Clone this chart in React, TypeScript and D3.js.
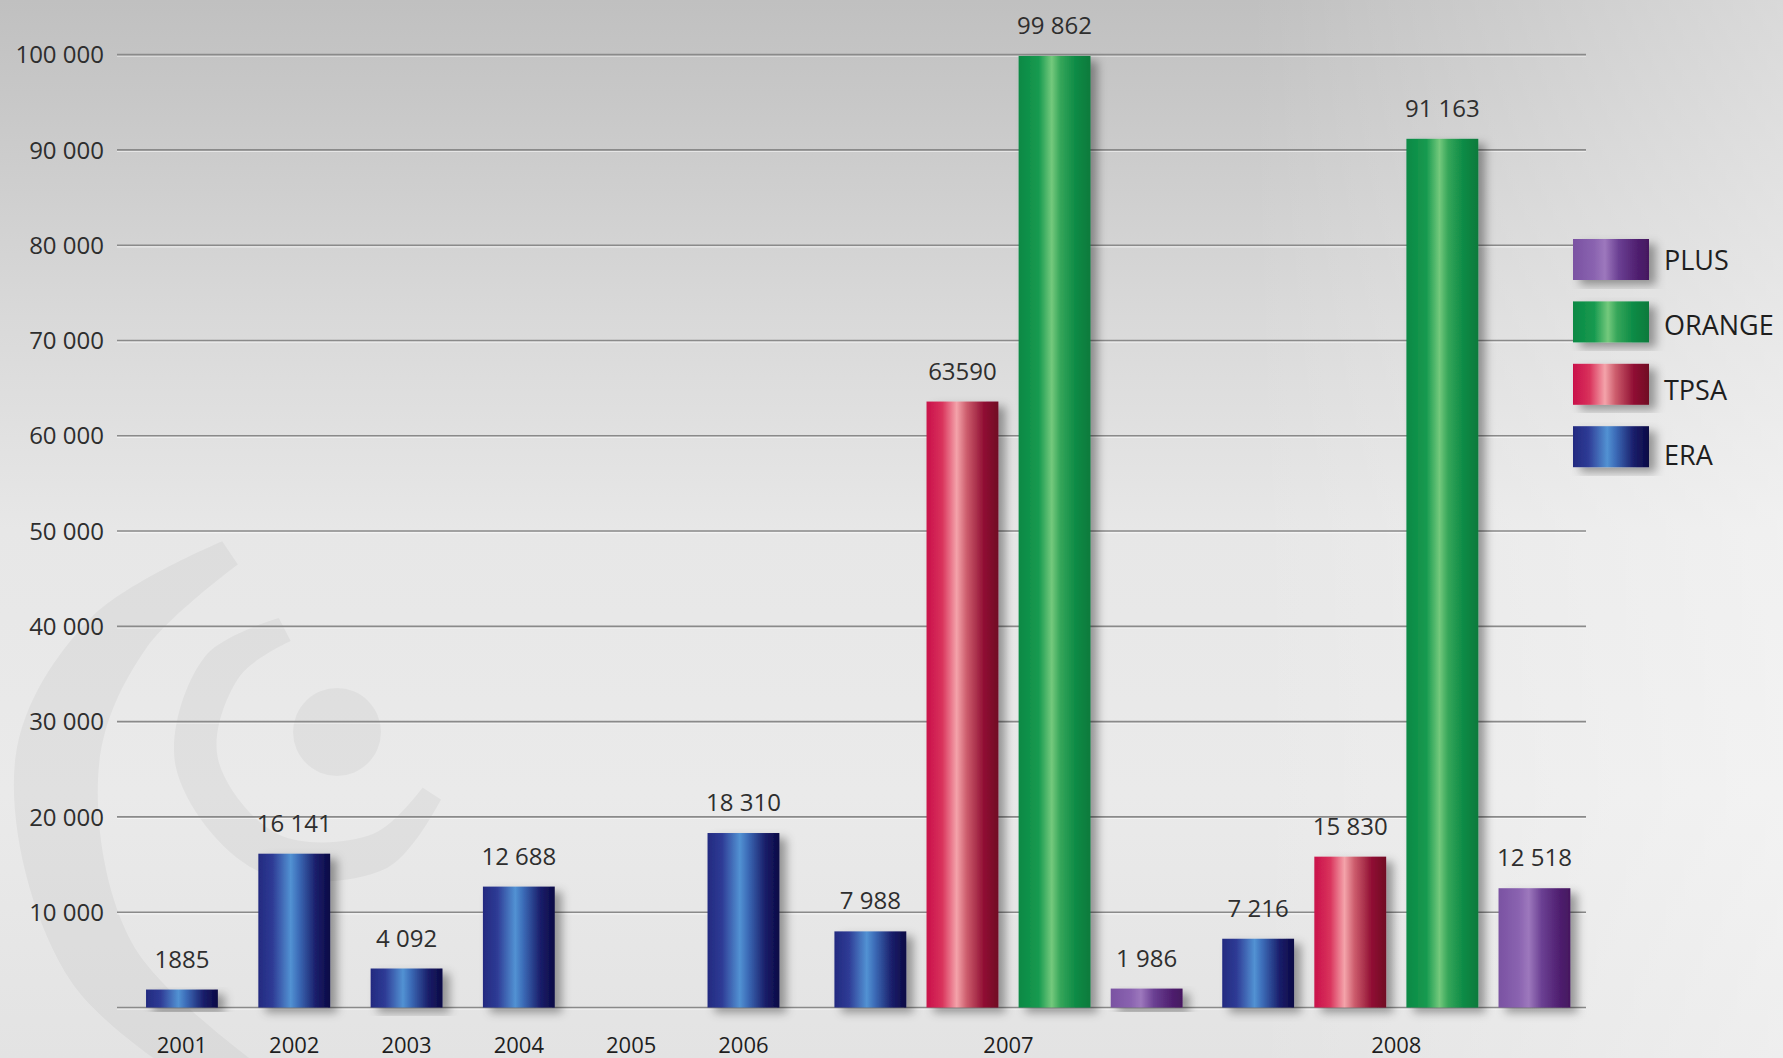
import React from "react";
import * as d3 from "d3";

// ---------- data ----------
const years = ["2001", "2002", "2003", "2004", "2005", "2006", "2007", "2008"];
const seriesNames = ["ERA", "TPSA", "ORANGE", "PLUS"];
const eraValues = [1885, 16141, 4092, 12688, null, 18310, 7988, 7216];
const tpsaValues = [null, null, null, null, null, null, 63590, 15830];
const orangeValues = [null, null, null, null, null, null, 99862, 91163];
const plusValues = [null, null, null, null, null, null, 1986, 12518];
const eraLabels = ["1885", "16 141", "4 092", "12 688", "", "18 310", "7 988", "7 216"];
const tpsaLabels = ["", "", "", "", "", "", "63590", "15 830"];
const orangeLabels = ["", "", "", "", "", "", "99 862", "91 163"];
const plusLabels = ["", "", "", "", "", "", "1 986", "12 518"];
const yTicks = [0, 10000, 20000, 30000, 40000, 50000, 60000, 70000, 80000, 90000, 100000];
const legendOrder = ["PLUS", "ORANGE", "TPSA", "ERA"];

// ---------- layout ----------
const W = 1783;
const H = 1058;
const FONT = "'Open Sans', 'Noto Sans', sans-serif";
const plotLeft = 117;
const plotRight = 1586;
const yTop = 54.6;
const yBottom = 1007.5;
const firstYearLeft = 125.8;
const singleW = 112.3;
const innerStep = 92.1;
const groupPad = 9.7;
const groupLeadGap = 15;

const valuesBySeries: Record<string, (number | null)[]> = {
  ERA: eraValues,
  TPSA: tpsaValues,
  ORANGE: orangeValues,
  PLUS: plusValues,
};
const labelsBySeries: Record<string, string[]> = {
  ERA: eraLabels,
  TPSA: tpsaLabels,
  ORANGE: orangeLabels,
  PLUS: plusLabels,
};

const gradStops: Record<string, [number, string][]> = {
  ERA: [
    [0, "#232a80"],
    [0.2, "#2e3b95"],
    [0.45, "#5292d3"],
    [0.56, "#3c6cb8"],
    [0.8, "#1a1e6a"],
    [1, "#0b0944"],
  ],
  TPSA: [
    [0, "#c9104a"],
    [0.22, "#d9335c"],
    [0.42, "#f4a3aa"],
    [0.56, "#cc5c6c"],
    [0.8, "#900f33"],
    [1, "#700a24"],
  ],
  ORANGE: [
    [0, "#0a8944"],
    [0.28, "#179a50"],
    [0.46, "#74c97c"],
    [0.58, "#36a65a"],
    [0.8, "#0b8a45"],
    [1, "#077a3c"],
  ],
  PLUS: [
    [0, "#7a52a2"],
    [0.28, "#8a63b0"],
    [0.42, "#9d78bd"],
    [0.6, "#6b4093"],
    [0.85, "#4f1f6f"],
    [1, "#45185f"],
  ],
};

// watermark swirl shapes (decoration): [screen angle deg, inner r, outer r]
const swirlOuter: [number, number, number][] = [
  [-124, 272, 300],
  [-150, 282, 345],
  [-175, 292, 376],
  [-211, 300, 372],
  [-250, 312, 362],
];
const swirlInner: [number, number, number][] = [
  [-117, 102, 128],
  [-150, 112, 152],
  [-192, 122, 165],
  [-240, 118, 160],
  [-290, 108, 145],
  [-327, 102, 124],
];

const fmt = d3.formatLocale({
  decimal: ",",
  thousands: " ",
  grouping: [3],
  currency: ["", ""],
}).format(",");

export default function App() {
  const y = d3.scaleLinear().domain([0, 100000]).range([yBottom, yTop]);

  const present = years.map((_, i) =>
    seriesNames.filter((s) => valuesBySeries[s][i] != null)
  );
  const widths = present.map((p, i) => {
    if (p.length <= 1) return singleW;
    const lead = i > 0 && present[i - 1].length <= 1 ? groupLeadGap : 0;
    return p.length * innerStep + 2 * groupPad + lead;
  });
  const leads = present.map((p, i) =>
    p.length > 1 && i > 0 && present[i - 1].length <= 1 ? groupLeadGap : 0
  );
  const cum = Array.from(d3.cumsum(widths));
  const centers = widths.map((w, i) => firstYearLeft + cum[i] - (w - leads[i]) / 2);

  const bars: { key: string; s: string; x: number; w: number; v: number; label: string }[] = [];
  years.forEach((yr, i) => {
    const p = present[i];
    if (!p.length) return;
    const inner = d3
      .scaleBand<string>()
      .domain(p)
      .range([centers[i] - (p.length * innerStep) / 2, centers[i] + (p.length * innerStep) / 2])
      .paddingInner(0.22)
      .paddingOuter(0.11);
    p.forEach((s) => {
      bars.push({
        key: yr + s,
        s,
        x: inner(s)!,
        w: inner.bandwidth(),
        v: valuesBySeries[s][i] as number,
        label: labelsBySeries[s][i],
      });
    });
  });

  const toRad = (deg: number) => ((deg + 90) * Math.PI) / 180;
  const swirl = d3
    .areaRadial<[number, number, number]>()
    .angle((d) => toRad(d[0]))
    .innerRadius((d) => d[1])
    .outerRadius((d) => d[2])
    .curve(d3.curveCatmullRom);

  const legendX = 1573;
  const legendW = 76;
  const legendH = 41;
  const legendY0 = 239;
  const legendStep = 62.4;
  const legendTextY0 = 260.5;
  const legendTextStep = 65;

  return (
    <svg
      width={W}
      height={H}
      style={{ position: "absolute", left: 0, top: 0, display: "block" }}
      fontFamily={FONT}
    >
      <defs>
        <linearGradient id="bg" x1="0" y1="0" x2="0" y2="1">
          <stop offset="0" stopColor="#c0c0c0" />
          <stop offset="0.1" stopColor="#c8c8c8" />
          <stop offset="0.3" stopColor="#d9d9d9" />
          <stop offset="0.5" stopColor="#e7e7e7" />
          <stop offset="0.75" stopColor="#eaeaea" />
          <stop offset="1" stopColor="#e3e3e3" />
        </linearGradient>
        <linearGradient id="bgRight" x1="0" y1="0" x2="1" y2="0">
          <stop offset="0.7" stopColor="#ffffff" stopOpacity="0" />
          <stop offset="1" stopColor="#ffffff" stopOpacity="0.4" />
        </linearGradient>
        {seriesNames.map((s) => (
          <linearGradient key={s} id={"g" + s} x1="0" y1="0" x2="1" y2="0">
            {gradStops[s].map(([o, c], j) => (
              <stop key={j} offset={o} stopColor={c} />
            ))}
          </linearGradient>
        ))}
        <filter id="shadow" x="-30%" y="-10%" width="170%" height="130%">
          <feDropShadow dx="7" dy="5" stdDeviation="5" floodColor="#000" floodOpacity="0.36" />
        </filter>
      </defs>

      <rect x={0} y={0} width={W} height={H} fill="url(#bg)" />
      <rect x={0} y={0} width={W} height={H} fill="url(#bgRight)" />

      {/* watermark */}
      <g fill="#000" fillOpacity={0.04}>
        <path d={swirl(swirlOuter) as string} transform="translate(390,790)" />
        <path d={swirl(swirlInner) as string} transform="translate(337,732)" />
        <circle cx={337} cy={732} r={44} />
      </g>

      {/* gridlines & y labels */}
      {yTicks.map((t) => (
        <g key={t}>
          <line
            x1={plotLeft}
            x2={plotRight}
            y1={y(t) + 1.6}
            y2={y(t) + 1.6}
            stroke="#ffffff"
            strokeOpacity={0.5}
            strokeWidth={1.2}
          />
          <line
            x1={plotLeft}
            x2={plotRight}
            y1={y(t)}
            y2={y(t)}
            stroke="#8a8a8a"
            strokeWidth={1.6}
          />
          {t > 0 && (
            <text
              x={104}
              y={y(t)}
              dy="0.36em"
              textAnchor="end"
              fontSize={24}
              fill="#2e2e2e"
            >
              {fmt(t)}
            </text>
          )}
        </g>
      ))}

      {/* bars */}
      {bars.map((b) => (
        <g key={b.key}>
          <rect
            x={b.x}
            y={y(b.v)}
            width={b.w}
            height={y(0) - y(b.v)}
            fill={"url(#g" + b.s + ")"}
            filter="url(#shadow)"
          />
          <text
            x={b.x + b.w / 2}
            y={y(b.v) - 22}
            textAnchor="middle"
            fontSize={24}
            fill="#2e2e2e"
          >
            {b.label}
          </text>
        </g>
      ))}

      {/* year labels */}
      {years.map((yr, i) => (
        <text
          key={yr}
          x={centers[i]}
          y={1053}
          textAnchor="middle"
          fontSize={22}
          fill="#1e1e1e"
        >
          {yr}
        </text>
      ))}

      {/* legend */}
      {legendOrder.map((s, i) => (
        <g key={s}>
          <rect
            x={legendX}
            y={legendY0 + i * legendStep}
            width={legendW}
            height={legendH}
            fill={"url(#g" + s + ")"}
            filter="url(#shadow)"
          />
          <text
            x={legendX + 91}
            y={legendTextY0 + i * legendTextStep}
            dy="0.36em"
            fontSize={27}
            fill="#1e1e1e"
          >
            {s}
          </text>
        </g>
      ))}
    </svg>
  );
}
